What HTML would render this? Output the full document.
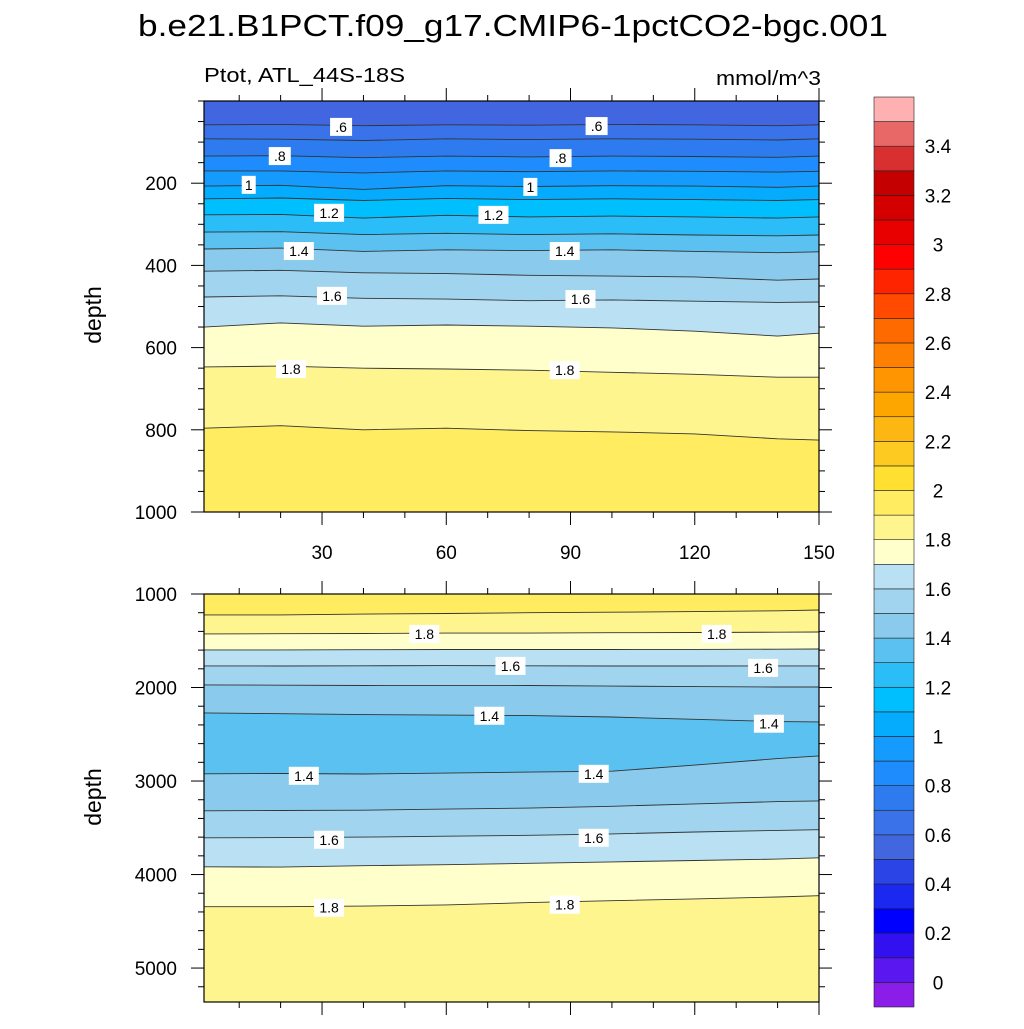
<!DOCTYPE html>
<html><head><meta charset="utf-8">
<style>
html,body{margin:0;padding:0;background:#fff;}
svg text{font-family:"Liberation Sans",Arial,sans-serif;}
</style></head>
<body>
<svg id="chart" width="1024" height="1024" viewBox="0 0 1024 1024" xmlns="http://www.w3.org/2000/svg">
<text x="138" y="36" font-size="31" textLength="750" lengthAdjust="spacingAndGlyphs">b.e21.B1PCT.f09_g17.CMIP6-1pctCO2-bgc.001</text>
<text x="204" y="82" font-size="20" textLength="201" lengthAdjust="spacingAndGlyphs">Ptot, ATL_44S-18S</text>
<text x="716" y="85" font-size="20" textLength="105" lengthAdjust="spacingAndGlyphs">mmol/m^3</text>
<text transform="translate(101,315) rotate(-90)" font-size="23" text-anchor="middle">depth</text>
<text transform="translate(101,797) rotate(-90)" font-size="23" text-anchor="middle">depth</text>
<g id="plots"></g>
<g id="colorbar"></g>
</svg>
<script>
// ---- data ----
const xSamples = [1.5, 20, 40, 60, 80, 100, 120, 140, 150];
const topLevels = [0.6, 0.7, 0.8, 0.9, 1.0, 1.1, 1.2, 1.3, 1.4, 1.5, 1.6, 1.7, 1.8, 1.9];
const topBelow  = [0.6, 0.7, 0.8, 0.9, 1.0, 1.1, 1.2, 1.3, 1.4, 1.5, 1.6, 1.7, 1.8, 1.9];
const topAbove = 0.5;
const topDepths = [
  [58, 57, 60, 58, 59, 57, 58, 60, 58],
  [92, 93, 96, 92, 94, 92, 93, 95, 92],
  [134, 133, 138, 134, 136, 134, 135, 137, 134],
  [170, 170, 175, 170, 172, 170, 171, 173, 171],
  [207, 205, 215, 206, 208, 206, 207, 210, 207],
  [238, 236, 242, 237, 240, 238, 240, 242, 240],
  [277, 276, 285, 278, 282, 280, 282, 285, 282],
  [319, 318, 325, 322, 325, 323, 326, 328, 326],
  [360, 358, 366, 362, 364, 362, 366, 369, 367],
  [414, 412, 418, 420, 424, 426, 428, 436, 433],
  [477, 474, 480, 482, 486, 484, 487, 490, 489],
  [550, 540, 548, 545, 548, 552, 560, 572, 565],
  [647, 645, 650, 652, 655, 660, 665, 672, 672],
  [796, 790, 800, 796, 802, 805, 810, 822, 825]
];
const botLevels = [1.9, 1.8, 1.7, 1.6, 1.5, 1.4, 1.4, 1.5, 1.6, 1.7, 1.8];
const botBelow  = [1.8, 1.7, 1.6, 1.5, 1.4, 1.3, 1.4, 1.5, 1.6, 1.7, 1.8];
const botAbove = 1.9;
const botDepths = [
  [1224, 1224, 1215, 1208, 1200, 1195, 1188, 1180, 1171],
  [1427, 1425, 1422, 1418, 1418, 1414, 1412, 1408, 1406],
  [1598, 1598, 1596, 1594, 1594, 1594, 1592, 1590, 1588],
  [1769, 1770, 1768, 1766, 1768, 1770, 1770, 1769, 1769],
  [1972, 1975, 1978, 1980, 1978, 1985, 1990, 1995, 1994],
  [2271, 2280, 2290, 2295, 2300, 2315, 2340, 2365, 2368],
  [2923, 2920, 2925, 2915, 2905, 2895, 2830, 2760, 2731],
  [3318, 3315, 3312, 3300, 3290, 3270, 3245, 3220, 3212],
  [3607, 3605, 3600, 3590, 3580, 3565, 3545, 3528, 3521],
  [3917, 3920, 3905, 3895, 3880, 3865, 3850, 3835, 3821],
  [4344, 4344, 4338, 4325, 4300, 4280, 4260, 4240, 4226]
];
const topLabelX = [34.6, 96.3, 19.8, 87.6, 12.3, 80.3, 31.7, 71.4, 24.4, 88.6, 32.4, 92.4, 22.5, 88.6];
const topLabelD = [63, 61, 134, 139, 204, 209, 272, 277, 365, 365, 474, 482, 652, 655];
const topLabelT = [".6", ".6", ".8", ".8", "1", "1", "1.2", "1.2", "1.4", "1.4", "1.6", "1.6", "1.8", "1.8"];
const botLabelX = [54.7, 125.3, 75.5, 136.5, 70.4, 137.9, 25.6, 95.6, 31.7, 95.6, 31.7, 88.6];
const botLabelD = [1427, 1427, 1769, 1790, 2302, 2387, 2944, 2923, 3628, 3607, 4355, 4323];
const botLabelT = ["1.8", "1.8", "1.6", "1.6", "1.4", "1.4", "1.4", "1.4", "1.6", "1.6", "1.8", "1.8"];
const xTicks = [30, 60, 90, 120, 150];
const topYTicks = [200, 400, 600, 800, 1000];
const botYTicks = [1000, 2000, 3000, 4000, 5000];
const cbLabels = ["0","0.2","0.4","0.6","0.8","1","1.2","1.4","1.6","1.8","2","2.2","2.4","2.6","2.8","3","3.2","3.4"];
const cbColors = ["#8a1ee8","#5b17f0","#3210f0","#0000ff","#1a28f0","#2a44e6","#4166e0","#3a72ea","#2d7bef","#1e8cfc","#159bfd","#05abfd","#00bfff","#2bbdf7","#5bc1f0","#8acbed","#a1d4ef","#b9e1f3","#ffffcc","#fff58f","#ffec60","#ffe030","#fcca20","#fcb712","#fea600","#ff9500","#ff8000","#ff6a00","#ff4a00","#ff2400","#ff0000","#e80000","#d40000","#c40000","#d83030","#e86868","#ffb0b0"];

// ---- helpers ----
const NS = "http://www.w3.org/2000/svg";
function mk(tag, attrs, parent) {
  const e = document.createElementNS(NS, tag);
  for (const k in attrs) e.setAttribute(k, attrs[k]);
  parent.appendChild(e);
  return e;
}
function colorFor(v) {
  const idx = Math.round(v * 10) + 1;
  return cbColors[Math.max(0, Math.min(cbColors.length - 1, idx))];
}
const X0 = 204, X1 = 819, XMIN = 1.5, XMAX = 150;
const xs = x => X0 + (x - XMIN) / (XMAX - XMIN) * (X1 - X0);

function panel(name, top, bottom, dmin, dmax, levels, below, above, depths, lx, ld, lt, yticks, minorStep) {
  const ys = d => top + (d - dmin) / (dmax - dmin) * (bottom - top);
  const root = document.getElementById("plots");
  const g = mk("g", {}, root);
  
  
  const clipId = name + "-clip";
  const cp = mk("clipPath", {id: clipId}, g);
  mk("rect", {x: X0, y: top, width: X1 - X0, height: bottom - top}, cp);
  const fills = mk("g", {"clip-path": "url(#" + clipId + ")"}, g);
  const bg = mk("rect", {x: X0, y: top, width: X1 - X0, height: bottom - top, fill: colorFor(above)}, fills);
  
  
  levels.forEach((lv, i) => {
    const pts = xSamples.map((x, j) => xs(x).toFixed(1) + "," + ys(depths[i][j]).toFixed(1));
    const poly = mk("polygon", {points: pts.join(" ") + " " + X1 + "," + (bottom + 5) + " " + X0 + "," + (bottom + 5), fill: colorFor(below[i])}, fills);
    
    
  });
  levels.forEach((lv, i) => {
    const pts = xSamples.map((x, j) => xs(x).toFixed(1) + "," + ys(depths[i][j]).toFixed(1));
    const pl = mk("polyline", {points: pts.join(" "), fill: "none", stroke: "#333", "stroke-width": 0.9}, fills);
    
    
  });
  lt.forEach((t, i) => {
    const cx = xs(lx[i]), cy = ys(ld[i]);
    const w = t.length * 8 + 6;
    const lg = mk("g", {}, fills);
    
    
    mk("rect", {x: cx - w / 2, y: cy - 9, width: w, height: 18, fill: "#fff"}, lg);
    const tx = mk("text", {x: cx, y: cy + 5, "font-size": 14, "text-anchor": "middle"}, lg);
    tx.textContent = t;
  });
  const fr = mk("rect", {x: X0, y: top, width: X1 - X0, height: bottom - top, fill: "none", stroke: "#000", "stroke-width": 1.2}, g);
  
  
  for (let x = 10; x <= 150; x += 10) {
    const major = x % 30 === 0;
    const L = major ? 13 : 6;
    mk("line", {x1: xs(x), x2: xs(x), y1: top, y2: top - L, stroke: "#000", "stroke-width": 1}, g);
    mk("line", {x1: xs(x), x2: xs(x), y1: bottom, y2: bottom + L, stroke: "#000", "stroke-width": 1}, g);
  }
  for (let d = Math.ceil(dmin / minorStep) * minorStep; d <= dmax; d += minorStep) {
    const major = yticks.includes(d);
    const L = major ? 13 : 6;
    mk("line", {x1: X0, x2: X0 - L, y1: ys(d), y2: ys(d), stroke: "#000", "stroke-width": 1}, g);
    mk("line", {x1: X1, x2: X1 + L, y1: ys(d), y2: ys(d), stroke: "#000", "stroke-width": 1}, g);
  }
  yticks.forEach(d => {
    const t = mk("text", {x: 177, y: ys(d) + 7, "font-size": 19, "text-anchor": "end"}, g);
    
    
    t.textContent = d;
  });
  return ys;
}

panel("top-panel", 101, 512, 0, 1000, topLevels, topBelow, topAbove, topDepths, topLabelX, topLabelD, topLabelT, topYTicks, 50);
panel("bottom-panel", 594, 1002, 1000, 5363, botLevels, botBelow, botAbove, botDepths, botLabelX, botLabelD, botLabelT, botYTicks, 200);

const plots = document.getElementById("plots");
xTicks.forEach(x => {
  const t = mk("text", {x: xs(x), y: 559, "font-size": 19, "text-anchor": "middle"}, plots);
  
  
  t.textContent = x;
});

const cb = document.getElementById("colorbar");
const CBT = 97, CBB = 1007, CBX = 874, CBW = 40;
const boxH = (CBB - CBT) / cbColors.length;
cbColors.forEach((c, i) => {
  const y = CBB - (i + 1) * boxH;
  const r = mk("rect", {x: CBX, y: y, width: CBW, height: boxH, fill: c, stroke: "#222", "stroke-width": 0.6}, cb);
  
  
});
cbLabels.forEach((l, i) => {
  const y = CBB - boxH - i * 2 * boxH;
  const t = mk("text", {x: 938, y: y + 7, "font-size": 19, "text-anchor": "middle"}, cb);
  
  
  t.textContent = l;
});
</script>
</body></html>
